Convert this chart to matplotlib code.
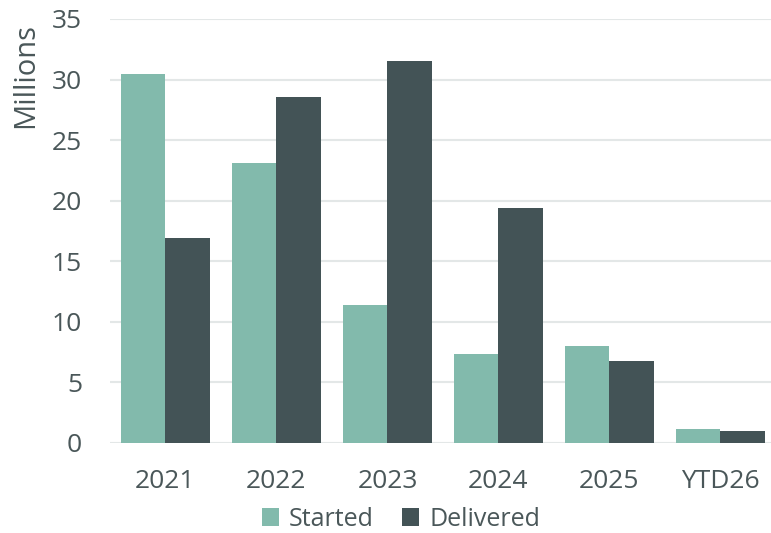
import matplotlib.pyplot as plt
import numpy as np

# data (millions)
categories = ['2021', '2022', '2023', '2024', '2025', 'YTD26']
started = [30.5, 23.1, 11.4, 7.35, 8.0, 1.16]
delivered = [16.9, 28.6, 31.5, 19.4, 6.8, 1.0]

text_color = '#4a5759'
grid_color = '#e3e7e7'

plt.rcParams['font.family'] = ['Open Sans', 'DejaVu Sans']

fig = plt.figure(figsize=(7.71, 5.33), dpi=100)
ax = fig.add_axes([110 / 771, 90 / 533, 661 / 771, 424 / 533])

x = np.arange(len(categories))
w = 0.4
ax.bar(x - w / 2, started, w, color='#82baac', label='Started', zorder=3)
ax.bar(x + w / 2, delivered, w, color='#435356', label='Delivered', zorder=3)

ax.set_xlim(-0.5, 5.455)
ax.set_ylim(0, 35)
ax.set_yticks(range(0, 36, 5))
ax.yaxis.grid(True, color=grid_color, linewidth=1.5, zorder=0)
ax.set_axisbelow(True)
for s in ax.spines.values():
    s.set_visible(False)
ax.tick_params(length=0, labelsize=19, colors=text_color)
ax.tick_params(axis='y', pad=20)
ax.tick_params(axis='x', pad=19)
ax.set_xticks(x)
ax.set_xticklabels(categories)

# y label sits at the top, not centred
fig.text(26 / 771, 1 - 76 / 533, 'Millions', rotation=90, ha='center', va='center',
         fontsize=21, color=text_color)

ax.legend(loc='center', bbox_to_anchor=(0.44, -0.18), ncol=2, frameon=False,
          fontsize=18, labelcolor=text_color, handlelength=0.7, handleheight=0.7,
          handletextpad=0.4, columnspacing=1.1)

fig.savefig('out.png', dpi=100)
